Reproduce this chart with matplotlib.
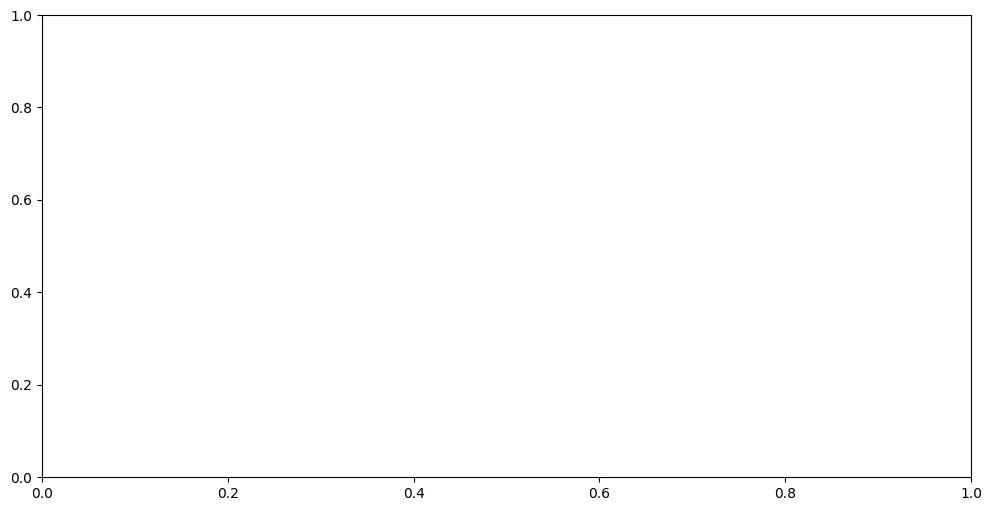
import numpy as np
import matplotlib
matplotlib.use("Agg")
import matplotlib.pyplot as plt

# axis limits and tick labels (empty axes)
x_limits = [0.0, 1.0]
y_limits = [0.0, 1.0]
x_ticks = [0.0, 0.2, 0.4, 0.6, 0.8, 1.0]
y_ticks = [0.0, 0.2, 0.4, 0.6, 0.8, 1.0]

fig = plt.figure(figsize=(9.92, 5.11), dpi=100)
ax = fig.add_axes([42 / 992, 1 - 477 / 511, (971 - 42) / 992, (477 - 15) / 511])

ax.set_xlim(x_limits)
ax.set_ylim(y_limits)
ax.set_xticks(x_ticks)
ax.set_yticks(y_ticks)

fig.savefig("out.png", dpi=100)
